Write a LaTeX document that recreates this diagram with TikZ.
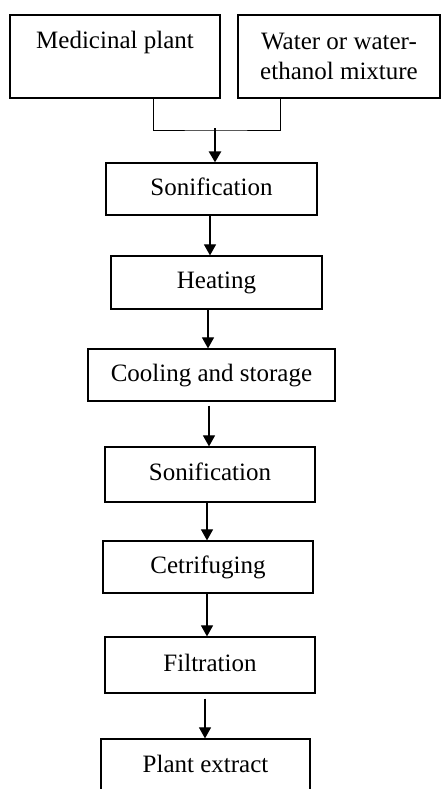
\documentclass[tikz,border=0pt]{standalone}
\usepackage{fontspec}
\setmainfont{Liberation Serif}
\usetikzlibrary{arrows.meta}
\begin{document}
\begin{tikzpicture}[x=1pt,y=-1pt,
        every node/.style={draw=black,line width=1.2pt,inner sep=0pt,
            font=\fontsize{25}{30}\selectfont},
        stepbox/.style={text height=17pt,text depth=5pt},
        arr/.style={-{Triangle[width=12pt,length=11pt]},line width=1.1pt}]
    \useasboundingbox (0,0) rectangle (440,789);

    \node[minimum width=210pt,minimum height=83pt,text height=34pt,text depth=49pt]
        (med) at (115,56.5) {Medicinal plant};
    \node[align=center,minimum width=202pt,minimum height=83pt]
        (water) at (339,56.5) {Water or water-\\ethanol mixture};
    \node[stepbox,minimum width=211pt,minimum height=52pt] (son1) at (211.5,189) {Sonification};
    \node[stepbox,minimum width=211pt,minimum height=53pt] (heat) at (216.5,282.5) {Heating};
    \node[stepbox,minimum width=247pt,minimum height=52pt] (cool) at (211.5,375) {Cooling and storage};
    \node[stepbox,minimum width=210pt,minimum height=55pt] (son2) at (210,474.5) {Sonification};
    \node[stepbox,minimum width=210pt,minimum height=52pt] (cetr) at (208,567) {Cetrifuging};
    \node[stepbox,minimum width=210pt,minimum height=56pt] (filt) at (210,665) {Filtration};
    \node[stepbox,minimum width=209pt,minimum height=54pt] (ext) at (205.5,766) {Plant extract};
    \coordinate (join) at (215,130);

    % the two inputs meet above the first step
    \draw[line width=1pt] ([xshift=38pt]med.south) |- (join) -| ([xshift=-59pt]water.south);
    \draw[arr,line width=2.6pt] ([yshift=2pt]join) -- (son1.north -| join);

    \draw[arr] ([xshift=-1.5pt]son1.south) -- ([xshift=-6.5pt]heat.north);
    \draw[arr] ([xshift=-8.5pt]heat.south) -- ([xshift=-3.5pt]cool.north);
    \draw[arr,shorten <=4pt] ([xshift=-2.5pt]cool.south) -- ([xshift=-1pt]son2.north);
    \draw[arr] ([xshift=-3pt]son2.south) -- ([xshift=-1pt]cetr.north);
    \draw[arr] ([xshift=-1pt]cetr.south) -- ([xshift=-3pt]filt.north);
    \draw[arr,shorten <=5pt] ([xshift=-5pt]filt.south) -- ([xshift=-0.5pt]ext.north);

\end{tikzpicture}
\end{document}
